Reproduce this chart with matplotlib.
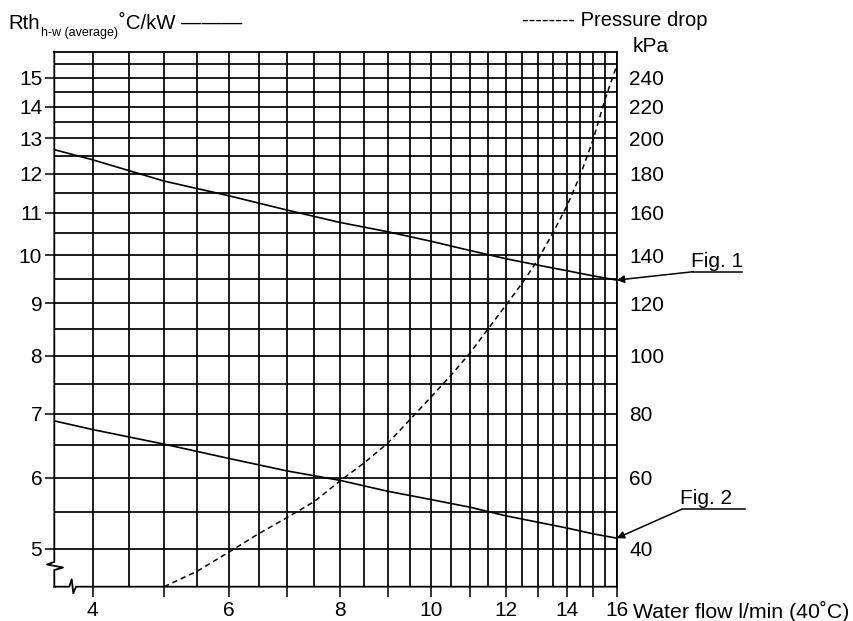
import numpy as np
import matplotlib
matplotlib.use("Agg")
import matplotlib.pyplot as plt
from matplotlib.ticker import FixedLocator, FuncFormatter

plt.rcParams["font.family"] = ["Liberation Sans", "DejaVu Sans"]

# thermal resistance curves, °C/kW
flow_fig1 = [3.5, 4, 5, 6, 7, 8, 9, 10, 11, 12, 13, 14, 15, 16]
rth_fig1 = [12.67, 12.38, 11.8, 11.42, 11.06, 10.76, 10.54, 10.32, 10.11, 9.93, 9.79, 9.67, 9.56, 9.47]
flow_fig2 = [3.5, 4, 5, 6, 7, 8, 9, 10, 11, 12, 13, 14, 15, 16]
rth_fig2 = [6.88, 6.74, 6.51, 6.29, 6.10, 5.96, 5.80, 5.68, 5.57, 5.45, 5.36, 5.28, 5.20, 5.14]

# pressure drop, kPa
flow_dp = [5, 5.5, 6, 6.5, 7, 7.5, 8, 8.5, 9, 9.5, 10, 10.5, 11, 11.5,
           12, 12.5, 13, 13.5, 14, 14.5, 15, 15.5, 16]
dp_kpa = [30, 34, 39, 44, 48.5, 53, 59, 64.5, 70.5, 78, 85.5, 93, 101, 110,
          119, 128, 138, 150, 163, 179, 199, 225, 249]

flow_ticks = [4, 5, 6, 7, 8, 9, 10, 11, 12, 13, 14, 15, 16]
rth_ticks = [5, 6, 7, 8, 9, 10, 11, 12, 13, 14, 15]
kpa_ticks = [40, 60, 80, 100, 120, 140, 160, 180, 200, 220, 240]

FS = 15


def paper_scale(a=1.0, b=0.0):
    # graph paper spacing: each division is ~0.9x the previous one
    fwd = lambda v: -np.exp(-0.1 * (a * np.asarray(v) + b))
    inv = lambda u: (-10 * np.log(np.clip(-np.asarray(u), 1e-12, None)) - b) / a
    return fwd, inv


W, H = 854, 621
fig = plt.figure(figsize=(W / 100, H / 100), dpi=100)
ax = fig.add_axes([54.3 / W, 1 - 586.7 / H, 562.4 / W, 535 / H])

ax.set_xscale("function", functions=paper_scale())
ax.set_yscale("function", functions=paper_scale())
ax.set_xlim(3.5, 16)
ax.set_ylim(4.5, 16)

ax2 = ax.twinx()
ax2.set_yscale("function", functions=paper_scale(1 / 20, 3))
ax2.set_ylim(30, 260)

# grid every half unit
ax.xaxis.set_major_locator(FixedLocator(flow_ticks))
ax.xaxis.set_minor_locator(FixedLocator(np.arange(4.5, 16, 1)))
ax.xaxis.set_major_formatter(FuncFormatter(lambda v, p: f"{v:.0f}" if round(v) % 2 == 0 else ""))
ax.yaxis.set_major_locator(FixedLocator(rth_ticks))
ax.yaxis.set_minor_locator(FixedLocator(np.arange(5.5, 16, 1)))
ax.yaxis.set_major_formatter(FuncFormatter(lambda v, p: f"{v:.0f}"))
ax.grid(which="both", color="black", lw=1.25)
ax.set_axisbelow(True)

ax.tick_params(axis="x", which="major", length=7.2, width=1.1, pad=3.2, labelsize=FS)
ax.tick_params(axis="y", which="major", length=6.5, width=1.1, pad=2.2, labelsize=FS)
ax.tick_params(which="minor", length=0)

ax2.yaxis.set_major_locator(FixedLocator(kpa_ticks))
ax2.yaxis.set_major_formatter(FuncFormatter(lambda v, p: f"{v:.0f}"))
ax2.yaxis.set_minor_locator(FixedLocator([]))
ax2.tick_params(axis="y", length=0, pad=9, labelsize=FS)

for sp in ["left", "bottom"]:
    ax.spines[sp].set_visible(False)
for sp in ["top", "right"]:
    ax.spines[sp].set_linewidth(1.3)
for sp in ax2.spines.values():
    sp.set_visible(False)

# axis lines with break marks
ax.plot([0, 0, -0.013, 0.0155, 0, 0], [1, 0.0462, 0.0415, 0.0359, 0.0312, 0],
        transform=ax.transAxes, color="black", lw=1.3, clip_on=False)
ax.plot([0, 0.0267, 0.031, 0.0338, 0.0386, 1], [0, 0, 0.0138, -0.0123, 0, 0],
        transform=ax.transAxes, color="black", lw=1.3, clip_on=False)

ax.plot(flow_fig1, rth_fig1, color="black", lw=1.2)
ax.plot(flow_fig2, rth_fig2, color="black", lw=1.2)
ax2.plot(flow_dp, dp_kpa, color="black", lw=1.1, linestyle=(0, (3.5, 2.5)))

# headers
t1 = fig.text(8.3 / W, 1 - 29.3 / H, "Rth", fontsize=14.7, va="baseline")
t2 = ax.annotate("h-w (average)", xy=(1, 0), xycoords=t1, xytext=(0.8, -4),
                 textcoords="offset points", fontsize=9, va="bottom", annotation_clip=False)
ax.annotate("˚C/kW ———", xy=(1, 0), xycoords=(t2, t1), xytext=(0.5, 0),
            textcoords="offset points", fontsize=14.7, va="bottom", annotation_clip=False)
fig.text(521.7 / W, 1 - 26 / H, "-------- Pressure drop", fontsize=14.5, va="baseline")
fig.text(632.3 / W, 1 - 51.7 / H, "kPa", fontsize=FS, va="baseline")

ax.annotate("Water flow l/min (40˚C)", xy=(1, 0), xycoords="axes fraction",
            xytext=(12, -10.4), textcoords="offset points", fontsize=15.3,
            va="top", ha="left", annotation_clip=False)

# Fig. 1 / Fig. 2 callouts
for name, xs, ys, x0, x1, y0 in [("Fig. 1", flow_fig1, rth_fig1, 693.3, 742.3, 271.7),
                                  ("Fig. 2", flow_fig2, rth_fig2, 681.7, 745.0, 509.3)]:
    fig.text((x0 - 2) / W, 1 - (y0 - 5) / H, name, fontsize=FS, va="baseline")
    ax.plot([x0, x1], [H - y0, H - y0], transform=None, color="black", lw=1.1, clip_on=False)
    ax.annotate("", xy=(xs[-1], ys[-1]), xycoords="data",
                xytext=(x0, H - y0), textcoords="figure pixels",
                arrowprops=dict(arrowstyle="-|>", color="black", lw=1.1,
                                mutation_scale=11, shrinkA=0, shrinkB=0),
                annotation_clip=False)

fig.savefig("out.png", dpi=100, facecolor="white")
